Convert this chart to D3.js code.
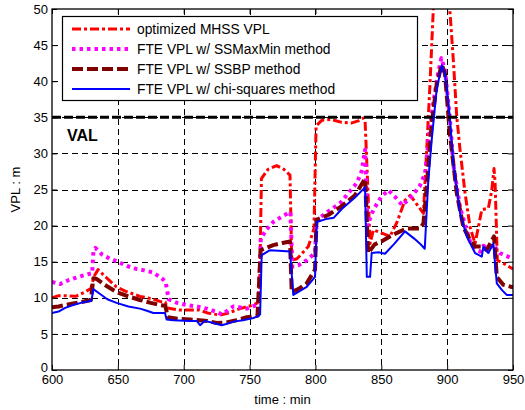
<!DOCTYPE html>
<html>
<head>
<meta charset="utf-8">
<script src="https://cdn.jsdelivr.net/npm/d3@7"></script>
<style>
  html, body { margin: 0; padding: 0; background: #fff; }
  svg { display: block; font-family: "Liberation Sans", Arial, Helvetica, sans-serif; }
</style>
</head>
<body>
<svg id="chart" width="525" height="410"></svg>
<script>
// ---------- data (time in minutes, VPL in metres) ----------
const xTicks = [600, 650, 700, 750, 800, 850, 900, 950];
const yTicks = [0, 5, 10, 15, 20, 25, 30, 35, 40, 45, 50];
const valLimit = 35;
const valLabel = "VAL";
const xLabel = "time : min";
const yLabel = "VPL : m";
const seriesNames = [
  "optimized MHSS VPL",
  "FTE VPL w/ SSMaxMin method",
  "FTE VPL w/ SSBP method",
  "FTE VPL w/ chi-squares method"
];

const mhssVpl = [[600,10.0],[605,10.3],[610,10.3],[618,10.2],[625,10.8],[629.5,11.3],[632,13.0],[635,13.9],[640,13.0],[649,11.5],[656,10.9],[666.8,10.2],[675,9.9],[682,9.5],[686,9.4],[687.5,8.6],[697,8.3],[712,8.3],[718,7.9],[727.6,7.6],[734,7.9],[742.8,8.5],[752.9,9.0],[756,9.3],[757.5,9.6],[759,26.5],[764,27.8],[770.6,28.3],[776,27.8],[780.7,27.0],[782,15.2],[786,15.4],[794.6,17.1],[798.9,19.6],[800.5,33.8],[805,34.6],[812,34.7],[820,34.3],[827,34.2],[832.6,34.5],[836.5,34.9],[837.7,34.5],[841.5,17.5],[844,19.4],[850,19.0],[856.6,18.5],[862,20.5],[868,23.5],[872,24.2],[876,23.2],[882,21.7],[884.5,30.5],[887,39.7],[889.5,50],[893,58],[898,58],[902,50],[904.7,42.9],[907.3,35.1],[909.8,30.5],[913.6,24.5],[917.4,19.8],[921.2,17.5],[926.3,22.2],[931.3,22.4],[933.9,24.9],[935.6,27.9],[936.4,26.0],[938.1,15.2],[942.6,14.8],[949,14.1],[950,14.0]];

const ssMaxMinVpl = [[600,12.2],[606,11.9],[612,12.4],[620,12.9],[628,13.3],[630.5,13.4],[631.5,16.6],[633,16.9],[638,16.0],[644,15.4],[650,15.0],[657,14.4],[664,14.0],[670,13.8],[677,13.5],[684,12.6],[686.3,12.2],[688.5,9.8],[695,9.3],[702.4,9.0],[710,8.8],[717.6,8.5],[724,8.1],[729,7.7],[733,8.2],[737.7,8.8],[742,8.7],[747.8,8.5],[755.4,9.0],[757,9.6],[758.5,18.2],[763,19.5],[768,20.5],[775,21.3],[781,21.9],[782.5,14.3],[787,14.5],[793.4,15.2],[799.7,16.2],[801,20.8],[810,22.0],[818.7,23.1],[825,24.5],[831.4,25.9],[835,27.5],[837.7,30.5],[839.5,20.0],[844,22.2],[850,24.0],[855.4,24.9],[860.4,24.0],[866,22.8],[871.8,23.8],[879,25.4],[883.2,27.2],[886,32.0],[889.5,37.0],[893,41.0],[895.6,43.2],[898.4,41.5],[902,35.0],[904.7,28.5],[909.8,22.5],[914.9,19.3],[917.4,17.8],[921,17.0],[925,16.4],[927.5,17.2],[931,16.8],[935,17.3],[940,16.2],[945,15.8],[950,15.4]];

const ssbpVpl = [[600,8.7],[605,8.8],[610,9.0],[616,9.2],[622,9.4],[629.5,9.7],[631.4,12.7],[634,12.6],[640,11.8],[649,10.8],[658,10.2],[666.8,9.7],[675,9.3],[682,9.0],[686,8.9],[688,7.3],[695,7.1],[704.8,7.0],[712,6.9],[718,6.8],[725,6.5],[732.6,6.6],[740,6.9],[747.8,7.3],[756,7.5],[758.4,16.6],[768,17.3],[775,17.6],[780.7,17.8],[782,10.8],[787,11.2],[793.4,12.0],[799.7,13.9],[800.8,20.8],[810,21.5],[820,22.7],[830,24.2],[837.7,26.5],[840,16.2],[845,17.4],[850,17.8],[856.6,18.5],[862,19.0],[869,19.6],[875,19.6],[879.4,19.6],[882,20.3],[884.5,25.4],[888.3,34.2],[892,39.5],[895.9,42.3],[898.4,41.0],[902,32.8],[907.3,24.5],[912.3,19.8],[917.4,18.0],[921.2,17.1],[926.3,17.1],[930,16.6],[935.6,18.5],[937.7,12.9],[942.6,11.8],[949,11.5],[950,11.5]];

const chiSquaresVpl = [[600,7.9],[605,8.1],[610,8.6],[616,9.0],[622,9.3],[630,9.6],[631.4,11.2],[636,10.6],[642,9.8],[649,9.3],[658,8.8],[666.8,8.5],[672,8.2],[677,7.9],[685.8,7.9],[687,7.0],[692,6.9],[704.8,6.8],[709.9,6.8],[712.4,6.2],[716,6.8],[722.5,6.5],[728.8,6.2],[733,6.4],[737.7,6.7],[745,6.9],[752.9,7.2],[757,7.5],[758,7.7],[759.2,15.9],[765.5,16.6],[772,16.5],[780.7,16.4],[783.2,10.4],[793.4,11.5],[799.7,12.9],[801,20.5],[808,20.9],[814,21.1],[820,22.3],[830,23.9],[837.7,25.3],[839,12.9],[841.5,12.9],[842.7,16.2],[848,16.3],[852.8,16.1],[860,17.5],[868,19.2],[875,18.2],[879.4,17.5],[883,16.8],[885.7,26.3],[888.3,31.9],[892,38.8],[895.9,42.2],[898.4,41.0],[902,35.1],[904.7,28.6],[909.8,21.7],[914.9,18.5],[921.2,16.2],[926.3,15.7],[927.5,17.1],[931.3,16.2],[935.1,17.5],[937.7,12.0],[941.5,11.1],[945.2,10.4],[950,10.4]];

// ---------- layout ----------
const svg = d3.select("#chart");
const plot = { left: 52, right: 513, top: 9, bottom: 370 };
const x = d3.scaleLinear().domain([600, 950]).range([plot.left, plot.right]);
const y = d3.scaleLinear().domain([0, 50]).range([plot.bottom, plot.top]);

svg.append("defs").append("clipPath").attr("id", "clip")
  .append("rect")
  .attr("x", plot.left).attr("y", plot.top)
  .attr("width", plot.right - plot.left).attr("height", plot.bottom - plot.top);

// grid
const grid = svg.append("g").attr("class", "grid");
grid.selectAll("line.v").data(xTicks.slice(1, -1)).join("line")
  .attr("x1", d => Math.round(x(d)) + 0.5).attr("x2", d => Math.round(x(d)) + 0.5)
  .attr("y1", plot.top).attr("y2", plot.bottom)
  .attr("stroke", "#000").attr("stroke-width", 1).attr("stroke-dasharray", "6,4");
grid.selectAll("line.h").data(yTicks.slice(1, -1)).join("line")
  .attr("y1", d => Math.round(y(d)) + 0.5).attr("y2", d => Math.round(y(d)) + 0.5)
  .attr("x1", plot.left).attr("x2", plot.right)
  .attr("stroke", "#000").attr("stroke-width", 1).attr("stroke-dasharray", "6,4");

// series
const line = d3.line().x(d => x(d[0])).y(d => y(d[1]));
const styles = [
  { data: mhssVpl, color: "#ff0000", width: 3, dash: "9,3,3,3" },
  { data: ssMaxMinVpl, color: "#ff00ff", width: 4, dash: "3.5,4" },
  { data: ssbpVpl, color: "#800000", width: 4, dash: "11,4" },
  { data: chiSquaresVpl, color: "#0000ff", width: 2, dash: null }
];
const lines = svg.append("g").attr("clip-path", "url(#clip)");
styles.forEach(s => {
  lines.append("path").datum(s.data)
    .attr("d", line)
    .attr("fill", "none")
    .attr("stroke", s.color)
    .attr("stroke-width", s.width)
    .attr("stroke-linejoin", "round")
    .attr("stroke-dasharray", s.dash);
});

// VAL line
svg.append("line")
  .attr("x1", plot.left).attr("x2", plot.right)
  .attr("y1", y(valLimit)).attr("y2", y(valLimit))
  .attr("stroke", "#000").attr("stroke-width", 3).attr("stroke-dasharray", "9,3");
svg.append("text")
  .attr("x", 67).attr("y", 141)
  .attr("font-size", 16).attr("font-weight", "bold")
  .text(valLabel);

// axes (inward ticks on all sides)
const fmt = d3.format("d");
const axB = svg.append("g").attr("transform", `translate(0,${plot.bottom})`)
  .call(d3.axisBottom(x).tickValues(xTicks).tickFormat(fmt).tickSizeInner(-5).tickSizeOuter(0).tickPadding(5));
const axL = svg.append("g").attr("transform", `translate(${plot.left},0)`)
  .call(d3.axisLeft(y).tickValues(yTicks).tickFormat(fmt).tickSizeInner(-5).tickSizeOuter(0).tickPadding(4));
const axT = svg.append("g").attr("transform", `translate(0,${plot.top})`)
  .call(d3.axisTop(x).tickValues(xTicks).tickFormat("").tickSizeInner(-5).tickSizeOuter(0));
const axR = svg.append("g").attr("transform", `translate(${plot.right},0)`)
  .call(d3.axisRight(y).tickValues(yTicks).tickFormat("").tickSizeInner(-5).tickSizeOuter(0));
[axB, axL, axT, axR].forEach(a => {
  a.select(".domain").remove();
  a.selectAll("line").attr("stroke", "#000").attr("stroke-width", 1);
  a.selectAll("text").attr("font-size", 13).attr("fill", "#000")
    .attr("font-family", "'Liberation Sans', Arial, sans-serif");
});
// nudge the "0" label up slightly so it clears the "600" label
axL.selectAll(".tick text").filter(d => d === 0).attr("dy", "0.15em");

// box
svg.append("rect")
  .attr("x", plot.left).attr("y", plot.top)
  .attr("width", plot.right - plot.left).attr("height", plot.bottom - plot.top)
  .attr("fill", "none").attr("stroke", "#000").attr("stroke-width", 1.3);

// axis labels
svg.append("text")
  .attr("x", (plot.left + plot.right) / 2).attr("y", 404)
  .attr("text-anchor", "middle").attr("font-size", 13)
  .text(xLabel);
svg.append("text")
  .attr("transform", `translate(20,${(plot.top + plot.bottom) / 2}) rotate(-90)`)
  .attr("text-anchor", "middle").attr("font-size", 13)
  .text(yLabel);

// legend
const leg = svg.append("g");
leg.append("rect")
  .attr("x", 62.5).attr("y", 16.5).attr("width", 355).attr("height", 84)
  .attr("fill", "#fff").attr("stroke", "#000").attr("stroke-width", 1.2);
const rowY = [29, 49, 69, 89];
styles.forEach((s, i) => {
  leg.append("line")
    .attr("x1", 72).attr("x2", 130)
    .attr("y1", rowY[i]).attr("y2", rowY[i])
    .attr("stroke", s.color).attr("stroke-width", s.width)
    .attr("stroke-dasharray", s.dash);
  leg.append("text")
    .attr("x", 137).attr("y", rowY[i] + 4.5)
    .attr("font-size", 13.8)
    .text(seriesNames[i]);
});
</script>
</body>
</html>
